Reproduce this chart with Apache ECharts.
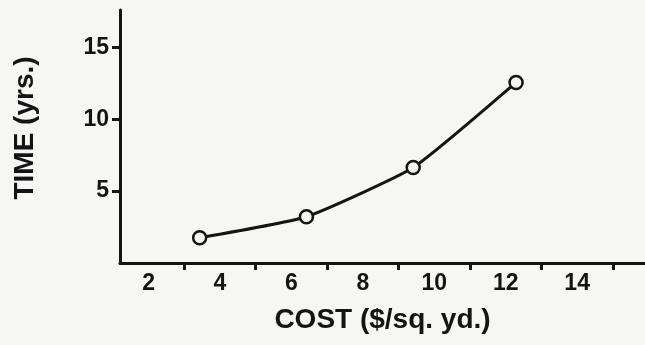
<!DOCTYPE html>
<html>
<head>
<meta charset="utf-8">
<script src="https://cdn.jsdelivr.net/npm/echarts@6/dist/echarts.min.js"></script>
<style>
html,body{margin:0;padding:0;background:#f6f6f4;}
#c{width:645px;height:345px;}
</style>
</head>
<body>
<div id="c"></div>
<script>
var costs = [3.43, 6.42, 9.41, 12.29];
var times = [1.76, 3.22, 6.64, 12.56];
var xLabelValues = [2, 4, 6, 8, 10, 12, 14];
var xTickValues = [3, 5, 7, 9, 11, 13, 15];
var yValues = [5, 10, 15];
var xTitle = 'COST ($/sq. yd.)';
var yTitle = 'TIME (yrs.)';

var ink = '#141414';
var font = '"Liberation Sans", Arial, sans-serif';
var data = costs.map(function (c, i) { return [c, times[i]]; });

var chart = echarts.init(document.getElementById('c'), null, {renderer: 'canvas'});
chart.setOption({
  backgroundColor: '#f6f6f4',
  animation: false,
  grid: {left: 120, right: 0, top: 10, bottom: 82},
  xAxis: {
    type: 'value', min: 1.2, max: 15.9,
    name: xTitle, nameLocation: 'middle', nameGap: 43,
    nameTextStyle: {color: ink, fontSize: 28, fontWeight: 'bold', fontFamily: font},
    axisLine: {show: true, lineStyle: {color: ink, width: 3}},
    axisTick: {show: true, customValues: xTickValues, length: 7, lineStyle: {color: ink, width: 3}},
    axisLabel: {customValues: xLabelValues, color: ink, fontSize: 23, fontWeight: 'bold', fontFamily: font, margin: 9},
    splitLine: {show: false}
  },
  yAxis: {
    type: 'value', min: 0, max: 17.6,
    axisLine: {show: true, lineStyle: {color: ink, width: 3}},
    axisTick: {show: true, customValues: yValues, length: 8, lineStyle: {color: ink, width: 3}},
    axisLabel: {customValues: yValues, color: ink, fontSize: 23, fontWeight: 'bold', fontFamily: font, margin: 11},
    splitLine: {show: false}
  },
  graphic: [{
    type: 'text', x: 25, y: 128, rotation: Math.PI / 2,
    style: {text: yTitle, fill: ink, font: 'bold 28px ' + font, align: 'center', verticalAlign: 'middle'}
  }],
  series: [{
    type: 'line', data: data, smooth: 0.15,
    symbol: 'circle', symbolSize: 13,
    lineStyle: {color: ink, width: 3},
    itemStyle: {color: '#f6f6f4', borderColor: ink, borderWidth: 2.5}
  }]
});
</script>
</body>
</html>
